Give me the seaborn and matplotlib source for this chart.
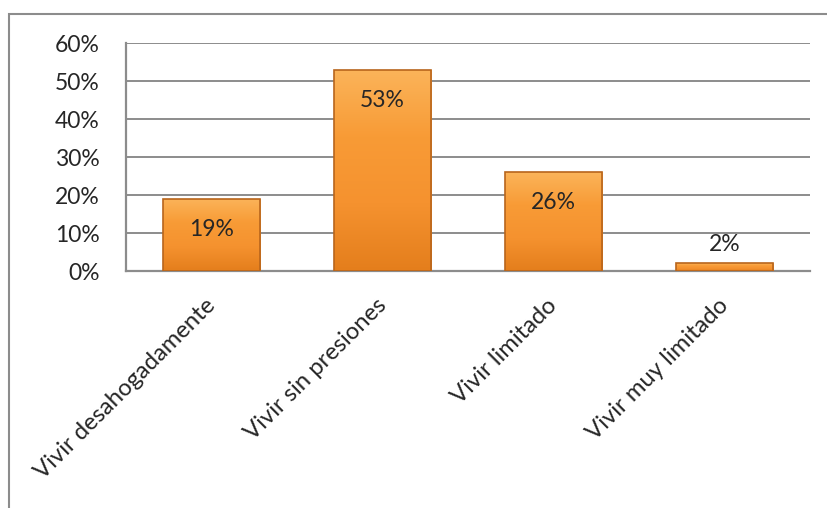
import matplotlib
matplotlib.use("Agg")
import matplotlib.pyplot as plt
import matplotlib.transforms as mtransforms
import seaborn as sns
import pandas as pd
import numpy as np
from matplotlib.patches import Rectangle
from matplotlib.colors import LinearSegmentedColormap

categories = ["Vivir desahogadamente", "Vivir sin presiones", "Vivir limitado", "Vivir muy limitado"]
values = [19, 53, 26, 2]
labels = ["19%", "53%", "26%", "2%"]
yticks = [0, 10, 20, 30, 40, 50, 60]

sns.set_style("white")
plt.rcParams['font.family'] = ['Lato', 'DejaVu Sans']
FS = 16.5
FSX = 17.2

df = pd.DataFrame({"cat": categories, "val": values})

W, H = 827, 508
fig = plt.figure(figsize=(W / 100, H / 100), dpi=100)
ax = fig.add_axes([126 / W, 1 - 271 / H, (810 - 126) / W, (271 - 43) / H])

sns.barplot(data=df, x="cat", y="val", ax=ax, color="#F5922F", width=0.57,
            edgecolor="#B8651C", linewidth=1.2, saturation=1, zorder=3)

# gradient shading clipped to each bar
cmap = LinearSegmentedColormap.from_list("og", ["#E47E1C", "#F5922F", "#F89B36", "#FBB45A"])
grad = np.linspace(0, 1, 256).reshape(-1, 1)
for p in list(ax.patches):
    x0, y0 = p.get_x(), p.get_y()
    w, h = p.get_width(), p.get_height()
    im = ax.imshow(grad, extent=[x0, x0 + w, y0, y0 + h], origin="lower",
                   cmap=cmap, aspect="auto", zorder=3.5, interpolation="bicubic")
    im.set_clip_path(p)
    p.set_facecolor("none")
    p.set_zorder(4)
ax.set_xlim(-0.5, len(categories) - 0.5)

ax.set_ylim(0, 60)
ax.set_yticks(yticks)
ax.set_yticklabels([f"{t}%" for t in yticks], fontsize=FS)
ax.yaxis.grid(True, color="#8C8C8C", linewidth=1.4, zorder=0)
ax.set_axisbelow(True)
ax.set_xlabel("")
ax.set_ylabel("")
ax.tick_params(axis="y", length=0, pad=19)
ax.tick_params(axis="x", length=0, pad=17)
ax.set_xticks(range(len(categories)))
ax.set_xticklabels(categories, rotation=45, ha="right", va="top",
                   rotation_mode="anchor", fontsize=FSX)
offset = mtransforms.ScaledTranslation(-7 / 100, 0, fig.dpi_scale_trans)
for lab in ax.get_xticklabels():
    lab.set_transform(lab.get_transform() + offset)

for s in ["top", "right"]:
    ax.spines[s].set_visible(False)
for s in ["left", "bottom"]:
    ax.spines[s].set_color("#8C8C8C")
    ax.spines[s].set_linewidth(1.6)

for i, (v, t) in enumerate(zip(values, labels)):
    if v > 10:
        ax.text(i, v - 8, t, ha="center", va="center", fontsize=FS, zorder=6)
    else:
        ax.text(i, v + 5, t, ha="center", va="center", fontsize=FS, zorder=6)

fig.patches.append(Rectangle((9 / W, -0.1), 1.2, 1 - 14 / H + 0.1,
                             transform=fig.transFigure, fill=False,
                             edgecolor="#8C8C8C", linewidth=1.5))

fig.savefig("out.png", dpi=100)
